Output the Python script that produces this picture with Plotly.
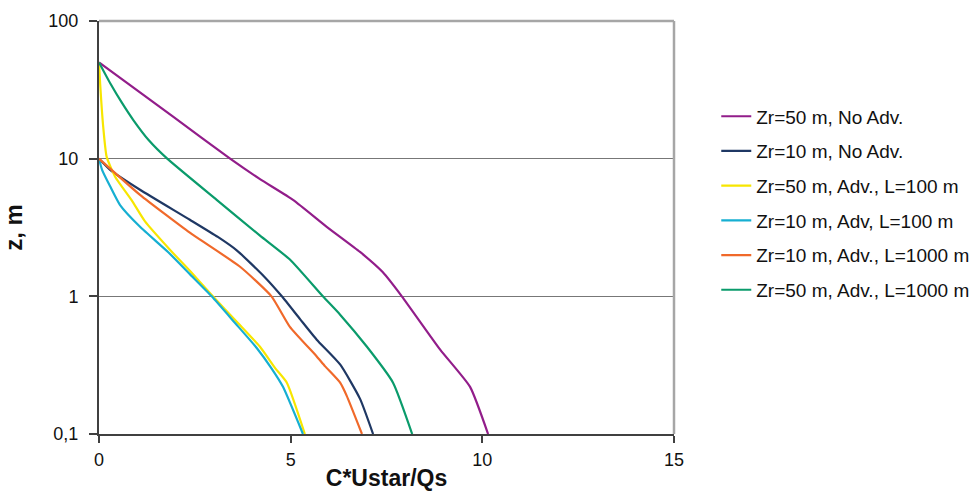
import plotly.graph_objects as go

# ---- data ----
names = [
    "Zr=50 m, No Adv.",
    "Zr=10 m, No Adv.",
    "Zr=50 m, Adv., L=100 m",
    "Zr=10 m, Adv, L=100 m",
    "Zr=10 m, Adv., L=1000 m",
    "Zr=50 m, Adv., L=1000 m",
]
colors = ["#921D8A", "#1F3864", "#F7E600", "#16AFD2", "#F0692A", "#0A9B6B"]

x_zr50_noadv = [0, 1.95, 3.42, 4.2, 5.07, 5.94, 6.81, 7.4, 7.9, 8.9, 9.68, 10.15]
z_zr50_noadv = [50, 20, 10, 7.1, 5.0, 3.2, 2.1, 1.5, 1.0, 0.41, 0.22, 0.1]

x_zr10_noadv = [0, 0.29, 1.07, 2.37, 3.1, 3.6, 4.3, 4.77, 5.25, 5.68, 6.29, 6.81, 7.15]
z_zr10_noadv = [10, 8.3, 5.95, 3.6, 2.7, 2.15, 1.4, 1.0, 0.68, 0.484, 0.32, 0.18, 0.1]

x_zr50_l100 = [0, 0.03, 0.11, 0.2, 0.42, 0.85, 1.2, 1.85, 2.4, 2.97, 3.6, 4.2, 4.6, 4.9, 5.37]
z_zr50_l100 = [50, 35, 17, 10.3, 7.4, 5.0, 3.5, 2.18, 1.5, 1.0, 0.65, 0.43, 0.3, 0.236, 0.1]

x_zr10_l100 = [0, 0.08, 0.29, 0.55, 1.07, 1.8, 2.37, 2.94, 3.55, 4.12, 4.5, 4.8, 5.32]
z_zr10_l100 = [10, 8.3, 6.3, 4.6, 3.2, 2.1, 1.45, 1.0, 0.64, 0.42, 0.3, 0.22, 0.1]

x_zr10_l1000 = [0, 1.07, 2.37, 3.68, 4.5, 4.98, 5.68, 5.9, 6.29, 6.46, 6.86]
z_zr10_l1000 = [10, 5.46, 2.9, 1.64, 1.0, 0.6, 0.366, 0.31, 0.236, 0.19, 0.1]

x_zr50_l1000 = [0, 0.3, 0.6, 0.9, 1.3, 1.78, 3.07, 4.2, 4.98, 5.84, 6.29, 6.99, 7.67, 8.17]
z_zr50_l1000 = [50, 35, 25.4, 19, 13.6, 10, 5.02, 2.76, 1.85, 1.0, 0.736, 0.43, 0.236, 0.1]

series_x = [x_zr50_noadv, x_zr10_noadv, x_zr50_l100, x_zr10_l100, x_zr10_l1000, x_zr50_l1000]
series_z = [z_zr50_noadv, z_zr10_noadv, z_zr50_l100, z_zr10_l100, z_zr10_l1000, z_zr50_l1000]

x_ticks = [0, 5, 10, 15]
y_ticks = [0.1, 1, 10, 100]
y_ticktext = ["0,1", "1", "10", "100"]

FONT = "Liberation Sans, Arial, sans-serif"

fig = go.Figure()
for i, (nm, xs, zs, c) in enumerate(zip(names, series_x, series_z, colors)):
    fig.add_trace(go.Scatter(
        x=xs, y=zs, mode="lines", name=nm, legendgroup="g%d" % i,
        line=dict(color=c, width=2.2, shape="spline", smoothing=0.5),
    ))

# figure is slightly wider than the window so the legend never squeezes the
# plot; the page margin is removed and overflow hidden (see post_script)
fig.update_layout(
    width=1000, height=491,
    margin=dict(l=99, r=326, t=21, b=57),
    paper_bgcolor="white", plot_bgcolor="white",
    font=dict(family=FONT, size=18, color="#111111"),
    showlegend=True,
    legend=dict(
        x=1.0735, xanchor="left", y=0.815, yanchor="top",
        font=dict(family=FONT, size=19, color="#111111"),
        tracegroupgap=7, bgcolor="rgba(0,0,0,0)",
    ),
    xaxis=dict(
        range=[0, 15], tickvals=x_ticks, ticks="outside", ticklen=7,
        tickcolor="#404040", tickwidth=1.5,
        showline=True, linecolor="#404040", linewidth=2,
        showgrid=False, zeroline=False, automargin=False,
        tickfont=dict(family=FONT, size=18),
        title=dict(text="<b>C*Ustar/Qs</b>", font=dict(family=FONT, size=23), standoff=3),
        ticklabelstandoff=1,
    ),
    yaxis=dict(
        type="log", range=[-1, 2], tickvals=y_ticks, ticktext=y_ticktext,
        ticks="outside", ticklen=8, tickcolor="#404040", tickwidth=1.5,
        showline=True, linecolor="#404040", linewidth=2,
        showgrid=True, gridcolor="#777777", gridwidth=1.3,
        zeroline=False, automargin=False,
        tickfont=dict(family=FONT, size=18),
        title=dict(text="<b>z, m</b>", font=dict(family=FONT, size=24), standoff=22),
        ticklabelstandoff=7,
    ),
    shapes=[
        dict(type="line", xref="paper", yref="paper", x0=0, x1=1, y0=1, y1=1,
             line=dict(color="#A6A6A6", width=2.5), layer="above"),
        dict(type="line", xref="paper", yref="paper", x0=1, x1=1, y0=0, y1=1,
             line=dict(color="#A6A6A6", width=2.5), layer="above"),
    ],
)

fig.write_html(
    "out.html",
    config={"displayModeBar": False},
    post_script="document.body.style.margin='0';document.body.style.overflow='hidden';"
                "document.documentElement.style.overflow='hidden';",
)
